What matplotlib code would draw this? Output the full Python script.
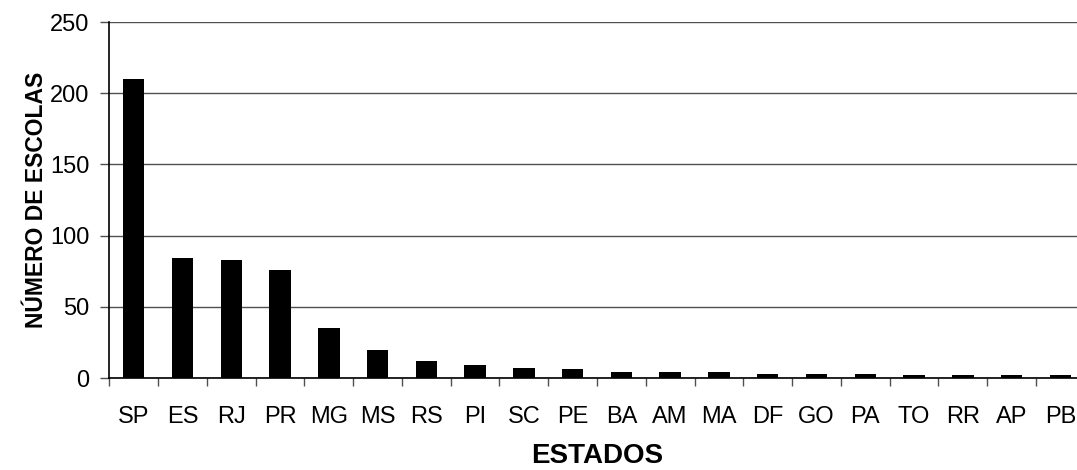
import matplotlib.pyplot as plt
import numpy as np

estados = ['SP', 'ES', 'RJ', 'PR', 'MG', 'MS', 'RS', 'PI', 'SC', 'PE',
           'BA', 'AM', 'MA', 'DF', 'GO', 'PA', 'TO', 'RR', 'AP', 'PB']
escolas = [210, 84, 83, 76, 35, 20, 12, 9, 7, 6,
           4, 4, 4, 3, 3, 3, 2, 2, 2, 2]
yticks = [0, 50, 100, 150, 200, 250]

plt.rcParams['font.family'] = ['Liberation Sans', 'DejaVu Sans']

fig = plt.figure(figsize=(10.77, 4.70), dpi=100)
ax = fig.add_axes([0.1015, 0.1957, 0.9057, 0.7573])

x = np.arange(len(estados))
ax.bar(x, escolas, width=0.44, color='black', zorder=3)

ax.set_xlim(-0.5, len(estados) - 0.5)
ax.set_ylim(0, 250)
ax.set_yticks(yticks)
ax.yaxis.grid(True, color='#505050', linewidth=1.0, zorder=0)

# category ticks sit between bars
ax.set_xticks(x)
ax.set_xticklabels(estados, fontsize=17)
ax.set_xticks(np.arange(len(estados) + 1) - 0.5, minor=True)
ax.tick_params(axis='x', which='major', length=0, pad=20)
ax.tick_params(axis='x', which='minor', length=6, color='#505050', width=1)
ax.tick_params(axis='y', length=6.5, color='#505050', width=1, pad=8, labelsize=17)

for s in ['top', 'right']:
    ax.spines[s].set_visible(False)
ax.spines['left'].set_linewidth(1.2)
ax.spines['bottom'].set_linewidth(1.2)

ax.set_xlabel('ESTADOS', fontsize=20, fontweight='bold', labelpad=11)
ax.set_ylabel('NÚMERO DE ESCOLAS', fontsize=16.5, fontweight='bold', labelpad=1)

fig.savefig('out.png', dpi=100)
